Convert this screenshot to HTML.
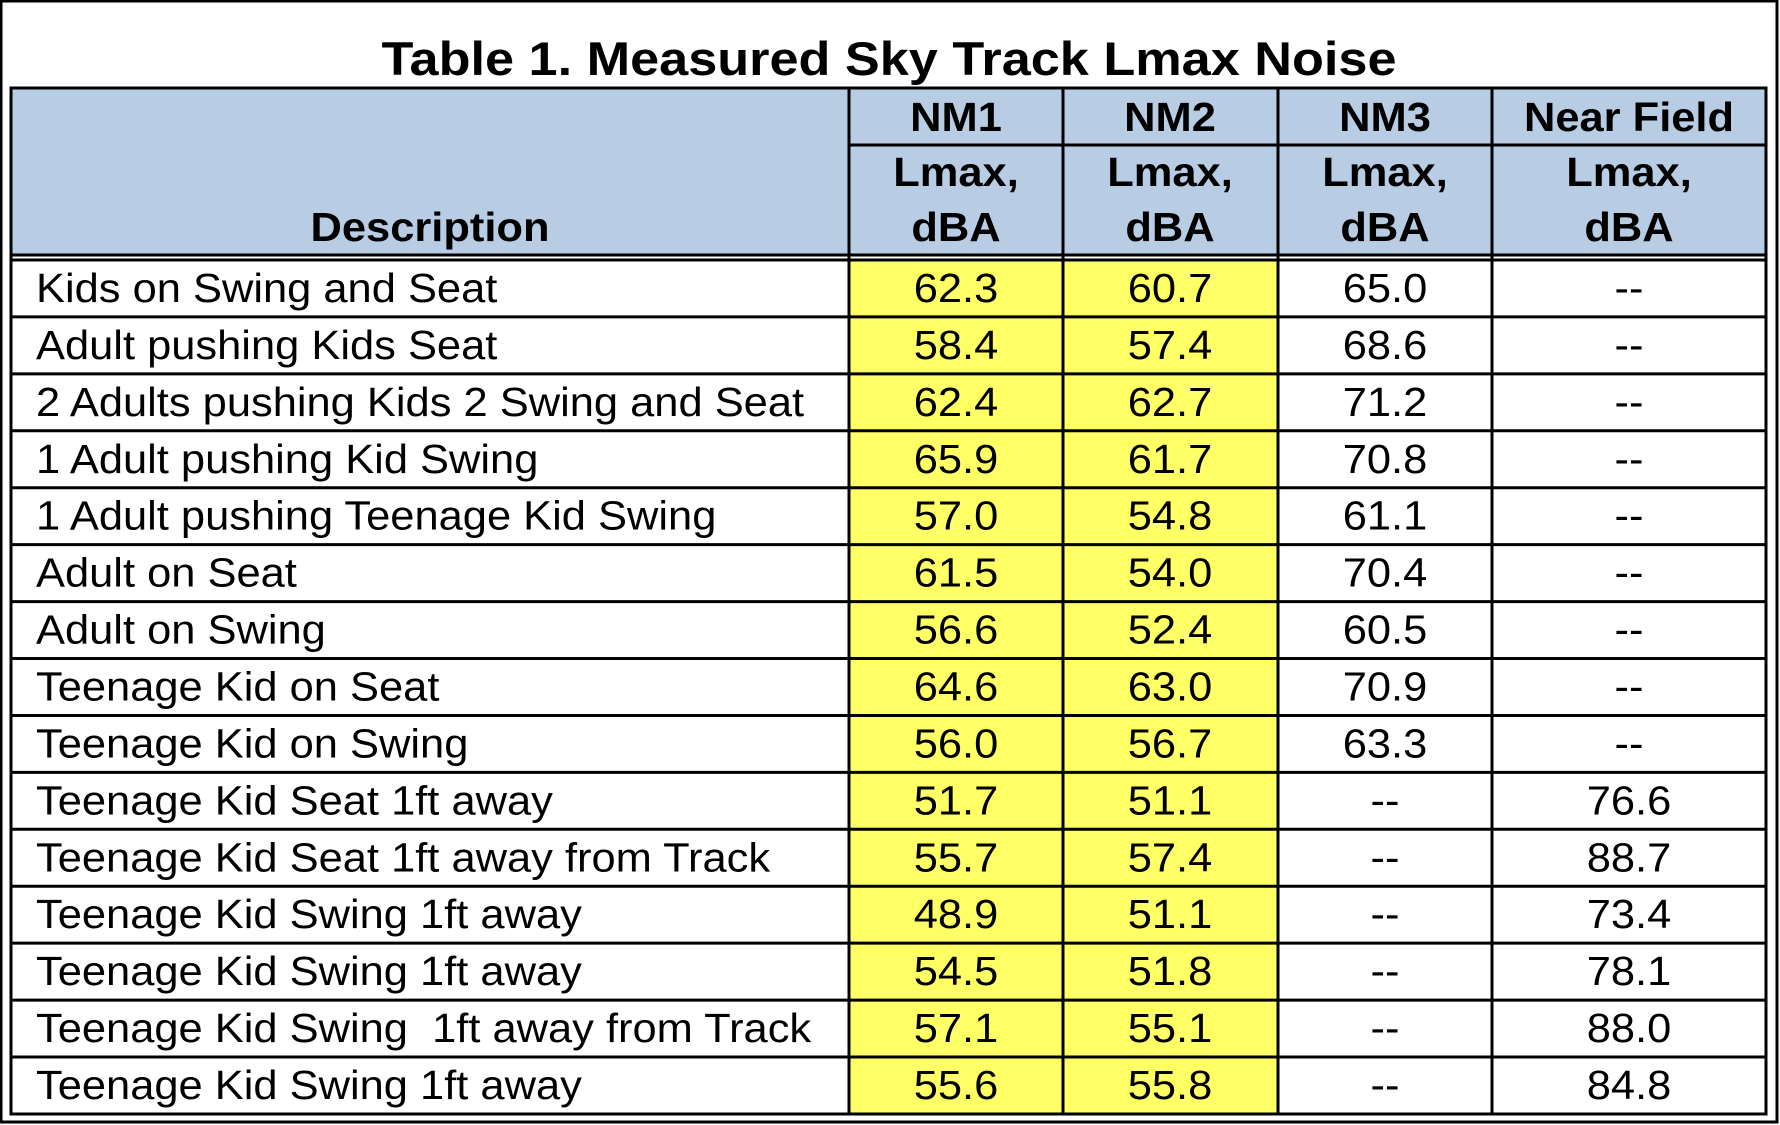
<!DOCTYPE html>
<html><head><meta charset="utf-8"><style>
html,body{margin:0;padding:0;background:#fff;}
svg{display:block;}
text{font-family:"Liberation Sans",Arial,sans-serif;fill:#000;}
</style></head><body>
<svg id="s" width="1780" height="1125" viewBox="0 0 1780 1125" xmlns="http://www.w3.org/2000/svg">
<rect x="1" y="1" width="1776" height="1121" fill="#fff" stroke="#000" stroke-width="3"/>
<text x="889" y="75" font-size="47" font-weight="bold" text-anchor="middle" textLength="1015" lengthAdjust="spacingAndGlyphs">Table 1. Measured Sky Track Lmax Noise</text>
<rect x="11" y="88" width="1755" height="168" fill="#b8cce4"/>
<rect x="849" y="260" width="429" height="854" fill="#ffff66"/>
<g id="hdr" font-weight="bold" font-size="41" text-anchor="middle"></g>
<g font-size="41" id="rows"></g>
<g stroke="#000" stroke-width="3" fill="none">
<rect x="11" y="88" width="1755" height="1026"/>
<line x1="849" y1="88" x2="849" y2="1114"/>
<line x1="1063" y1="88" x2="1063" y2="1114"/>
<line x1="1278" y1="88" x2="1278" y2="1114"/>
<line x1="1492" y1="88" x2="1492" y2="1114"/>
<line x1="849" y1="145" x2="1766" y2="145"/>
<line x1="11" y1="255" x2="1766" y2="255"/>
<line x1="11" y1="260" x2="1766" y2="260"/>
</g>
</svg>
<script>
var NS="http://www.w3.org/2000/svg",svg=document.getElementById("s");
function T(g,x,y,s,anchor){var t=document.createElementNS(NS,"text");t.setAttribute("x",0);t.setAttribute("y",0);
t.setAttribute("transform","translate("+x+","+y+") scale(1.06,1)");if(anchor)t.setAttribute("text-anchor",anchor);t.textContent=s;g.appendChild(t);}
var h=document.getElementById("hdr");
T(h,430,241,"Description");
var xs=[956,1170,1385,1629],nm=["NM1","NM2","NM3","Near Field"];
for(var k=0;k<4;k++){T(h,xs[k],131,nm[k]);T(h,xs[k],186,"Lmax,");T(h,xs[k],241,"dBA");}
var d=[["Kids on Swing and Seat","62.3","60.7","65.0","--"],
["Adult pushing Kids Seat","58.4","57.4","68.6","--"],
["2 Adults pushing Kids 2 Swing and Seat","62.4","62.7","71.2","--"],
["1 Adult pushing Kid Swing","65.9","61.7","70.8","--"],
["1 Adult pushing Teenage Kid Swing","57.0","54.8","61.1","--"],
["Adult on Seat","61.5","54.0","70.4","--"],
["Adult on Swing","56.6","52.4","60.5","--"],
["Teenage Kid on Seat","64.6","63.0","70.9","--"],
["Teenage Kid on Swing","56.0","56.7","63.3","--"],
["Teenage Kid Seat 1ft away","51.7","51.1","--","76.6"],
["Teenage Kid Seat 1ft away from Track","55.7","57.4","--","88.7"],
["Teenage Kid Swing 1ft away","48.9","51.1","--","73.4"],
["Teenage Kid Swing 1ft away","54.5","51.8","--","78.1"],
["Teenage Kid Swing \u00a01ft away from Track","57.1","55.1","--","88.0"],
["Teenage Kid Swing 1ft away","55.6","55.8","--","84.8"]];
var g=document.getElementById("rows"),rh=56.93;
d.forEach(function(r,i){
 var top=260+i*rh,by=top+42;
 T(g,36,by,r[0]);
 for(var k=1;k<5;k++)T(g,xs[k-1],by,r[k],"middle");
 if(i>0){var l=document.createElementNS(NS,"line");l.setAttribute("x1",11);l.setAttribute("x2",1766);l.setAttribute("y1",top);l.setAttribute("y2",top);l.setAttribute("stroke","#000");l.setAttribute("stroke-width","3");svg.appendChild(l);}
});
</script>
</body></html>
